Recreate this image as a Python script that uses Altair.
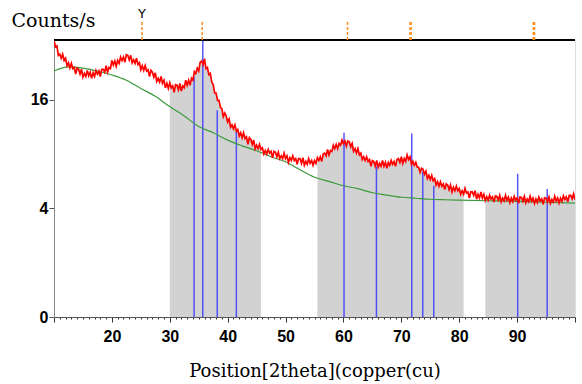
import altair as alt
import pandas as pd

# ---- data (counts every 0.25 deg from 10 to 100) ----
x_start, x_step = 10.0, 0.25
counts = [
    25.9, 24.7, 24.9, 23.2, 23.4, 22.7, 23.4, 22.3, 22.7, 21.4,
    21.9, 21.0, 21.8, 20.9, 21.1, 20.0, 21.0, 20.8, 20.0, 20.8,
    19.5, 20.1, 19.6, 20.6, 19.7, 20.3, 19.3, 20.2, 19.6, 20.6,
    20.0, 20.5, 19.6, 20.8, 20.8, 20.3, 21.4, 20.3, 21.1, 20.9,
    22.3, 21.5, 22.2, 21.3, 22.3, 21.8, 22.9, 22.3, 22.9, 22.0,
    23.3, 23.2, 22.4, 23.2, 21.9, 22.4, 21.8, 22.7, 21.6, 21.9,
    20.7, 21.4, 20.6, 21.4, 20.5, 20.7, 19.6, 20.6, 20.3, 19.5,
    20.2, 18.8, 19.3, 18.7, 19.6, 18.5, 19.0, 17.8, 18.5, 17.7,
    18.6, 17.8, 18.1, 17.1, 18.3, 18.2, 17.5, 18.5, 17.3, 18.1,
    17.8, 19.0, 18.2, 19.0, 18.2, 19.3, 19.0, 20.4, 20.1, 21.0,
    20.5, 22.0, 22.2, 21.6, 22.6, 20.9, 21.1, 19.9, 20.1, 18.7,
    18.3, 17.0, 17.0, 15.9, 15.9, 14.9, 14.7, 13.6, 14.1, 13.7,
    12.9, 13.3, 12.2, 12.5, 12.0, 12.5, 11.7, 11.9, 11.1, 11.5,
    10.9, 11.5, 10.8, 11.0, 10.1, 10.9, 10.7, 10.1, 10.6, 9.6,
    10.0, 9.6, 10.1, 9.5, 9.7, 9.0, 9.4, 9.0, 9.5, 9.1,
    9.3, 8.6, 9.3, 9.2, 8.7, 9.2, 8.5, 8.8, 8.5, 9.1,
    8.5, 8.8, 8.1, 8.6, 8.3, 8.8, 8.3, 8.5, 7.9, 8.5,
    8.5, 8.0, 8.6, 7.8, 8.2, 7.9, 8.5, 8.0, 8.3, 7.8,
    8.3, 8.0, 8.6, 8.3, 8.7, 8.2, 9.0, 9.1, 8.8, 9.5,
    8.9, 9.4, 9.3, 10.0, 9.6, 10.1, 9.6, 10.2, 10.0, 10.6,
    10.2, 10.5, 9.9, 10.5, 10.4, 9.8, 10.2, 9.3, 9.6, 9.1,
    9.6, 8.9, 9.1, 8.4, 8.7, 8.3, 8.7, 8.2, 8.4, 7.7,
    8.3, 8.2, 7.7, 8.3, 7.6, 8.0, 7.7, 8.3, 7.7, 8.1,
    7.5, 8.1, 7.8, 8.3, 7.9, 8.2, 7.7, 8.4, 8.5, 8.1,
    8.7, 8.0, 8.5, 8.2, 8.9, 8.4, 8.7, 7.9, 8.2, 7.8,
    8.1, 7.6, 7.6, 7.1, 7.5, 7.4, 6.9, 7.2, 6.5, 6.8,
    6.4, 6.8, 6.3, 6.5, 5.9, 6.2, 5.8, 6.2, 5.8, 6.0,
    5.5, 6.0, 5.9, 5.5, 5.9, 5.3, 5.7, 5.4, 5.8, 5.4,
    5.6, 5.1, 5.4, 5.1, 5.6, 5.2, 5.3, 4.8, 5.3, 5.3,
    5.0, 5.4, 4.7, 5.1, 4.8, 5.3, 4.8, 5.1, 4.6, 4.9,
    4.62, 5.03, 4.72, 4.89, 4.47, 4.97, 4.93, 4.63, 5.01, 4.49,
    4.79, 4.57, 5.02, 4.62, 4.86, 4.43, 4.79, 4.51, 4.93, 4.62,
    4.80, 4.38, 4.88, 4.85, 4.54, 4.93, 4.42, 4.71, 4.50, 4.94,
    4.55, 4.79, 4.36, 4.72, 4.44, 4.86, 4.56, 4.73, 4.31, 4.81,
    4.78, 4.49, 4.88, 4.38, 4.68, 4.48, 4.94, 4.55, 4.80, 4.40,
    4.78, 4.53, 4.97, 4.69, 4.89, 4.49, 5.02, 5.01, 4.74, 5.15,
    4.66,
]
bg_x = [10, 12.5, 15, 17.5, 20, 22.5, 25, 27.5, 30, 32.5, 35, 37.5, 40, 42.5,
        45, 47.5, 50, 52.5, 55, 57.5, 60, 62.5, 65, 67.5, 70, 72.5, 75, 77.5,
        80, 85, 90, 95, 100]
bg_y = [20.5, 21.2, 21.0, 20.5, 19.85, 19.0, 17.7, 16.5, 15.0, 13.7, 12.3, 11.5,
        10.6, 9.93, 9.36, 8.7, 8.16, 7.35, 6.62, 6.23, 5.84, 5.58, 5.23, 5.03,
        4.86, 4.78, 4.70, 4.66, 4.63, 4.58, 4.53, 4.46, 4.39]
stick_pos = [34.2, 35.7, 38.2, 41.5, 60.1, 65.7, 71.8, 73.7, 75.6, 90.1, 95.2]
stick_int = [19.5, 26.0, 14.5, 11.6, 11.5, 7.68, 11.4, 7.18, 5.84, 6.95, 5.55]
marker_pos = [25.2, 35.6, 60.7, 71.5, 71.7, 92.8, 93.0]
bands = [(30.0, 45.75), (55.5, 80.75), (84.5, 100.0)]

x_vals = [x_start + x_step * i for i in range(len(counts))]
profile = pd.DataFrame({"x": x_vals, "y": counts})
band_rows = []
for bi, (a, b) in enumerate(bands):
    for xv, yv in zip(x_vals, counts):
        if a <= xv <= b:
            band_rows.append({"x": xv, "y": yv, "band": bi})
band_df = pd.DataFrame(band_rows)
bg_df = pd.DataFrame({"x": bg_x, "y": bg_y})
stick_df = pd.DataFrame({"x": stick_pos, "y": stick_int})
marker_df = pd.DataFrame({"x": marker_pos})
label_df = pd.DataFrame({"x": [marker_pos[0]], "t": ["Y"]})

W, H = 521, 277
serif = "DejaVu Serif"
sans = "Liberation Sans"

x_axis = alt.Axis(
    values=list(range(10, 101)),
    labelExpr="(datum.value % 10 === 0 && datum.value >= 20 && datum.value <= 90) ? datum.value : ''",
    tickSize={"condition": {"test": "datum.value % 10 === 0", "value": 5}, "value": 2},
    tickColor="#333333",
    labelFont=sans, labelFontSize=16, labelFontWeight="bold", labelColor="black",
    labelPadding=6, labelOverlap=False, labelFlush=False,
    domainColor="#555555", grid=False,
    title="Position[2theta](copper(cu)", titleFont=serif, titleFontSize=18,
    titleFontWeight="normal", titleColor="black", titlePadding=18,
)
y_axis = alt.Axis(
    values=[0, 4, 16], tickSize=5, tickColor="#555555",
    labelFont=sans, labelFontSize=16, labelFontWeight="bold", labelColor="black",
    labelPadding=1, domainColor="#888888", grid=False,
    title="Counts/s", titleFont=serif, titleFontSize=19, titleFontWeight="normal",
    titleColor="black", titleAngle=0, titleAlign="left", titleBaseline="alphabetic",
    titleX=-43, titleY=-14,
)
xs = alt.Scale(domain=[10, 100], nice=False, zero=False)
ys = alt.Scale(type="sqrt", domain=[0, 26], nice=False, zero=True)
X = alt.X("x:Q", scale=xs, axis=x_axis)
Y = alt.Y("y:Q", scale=ys, axis=y_axis, stack=None)

areas = alt.Chart(band_df).mark_area(color="#d2d2d2", clip=True).encode(
    x=X, y=Y, detail="band:N")
sticks = alt.Chart(stick_df).mark_rule(color="#3a3aff", strokeWidth=1.5, opacity=0.85, clip=True).encode(
    x=X, y=Y, y2=alt.datum(0))
bg = alt.Chart(bg_df).mark_line(color="#3a9a3a", strokeWidth=1.2, interpolate="monotone", clip=True).encode(
    x=X, y=Y)
red = alt.Chart(profile).mark_line(color="#ff0000", strokeWidth=1.7, clip=True).encode(
    x=X, y=Y)
top = alt.Chart(profile).mark_rule(color="black", strokeWidth=2).encode(
    x=alt.value(0), x2=alt.value(W), y=alt.value(0))
markers = alt.Chart(marker_df).mark_rule(color="#ff8c1a", strokeWidth=1.5, strokeDash=[3, 2]).encode(
    x=X, y=alt.value(-18), y2=alt.value(0))
ylabel = alt.Chart(label_df).mark_text(font="DejaVu Sans", fontSize=13, baseline="bottom", color="black").encode(
    x=X, y=alt.value(-19), text="t:N")

chart = alt.layer(areas, sticks, bg, red, top, markers, ylabel).properties(
    width=W, height=H,
    autosize=alt.AutoSizeParams(type="none"),
    padding={"left": 54, "top": 40, "right": 7, "bottom": 67},
).configure_view(stroke="#444444", strokeWidth=1).configure(background="white")

chart.save("out.html", embed_options={"renderer": "svg", "actions": False})
